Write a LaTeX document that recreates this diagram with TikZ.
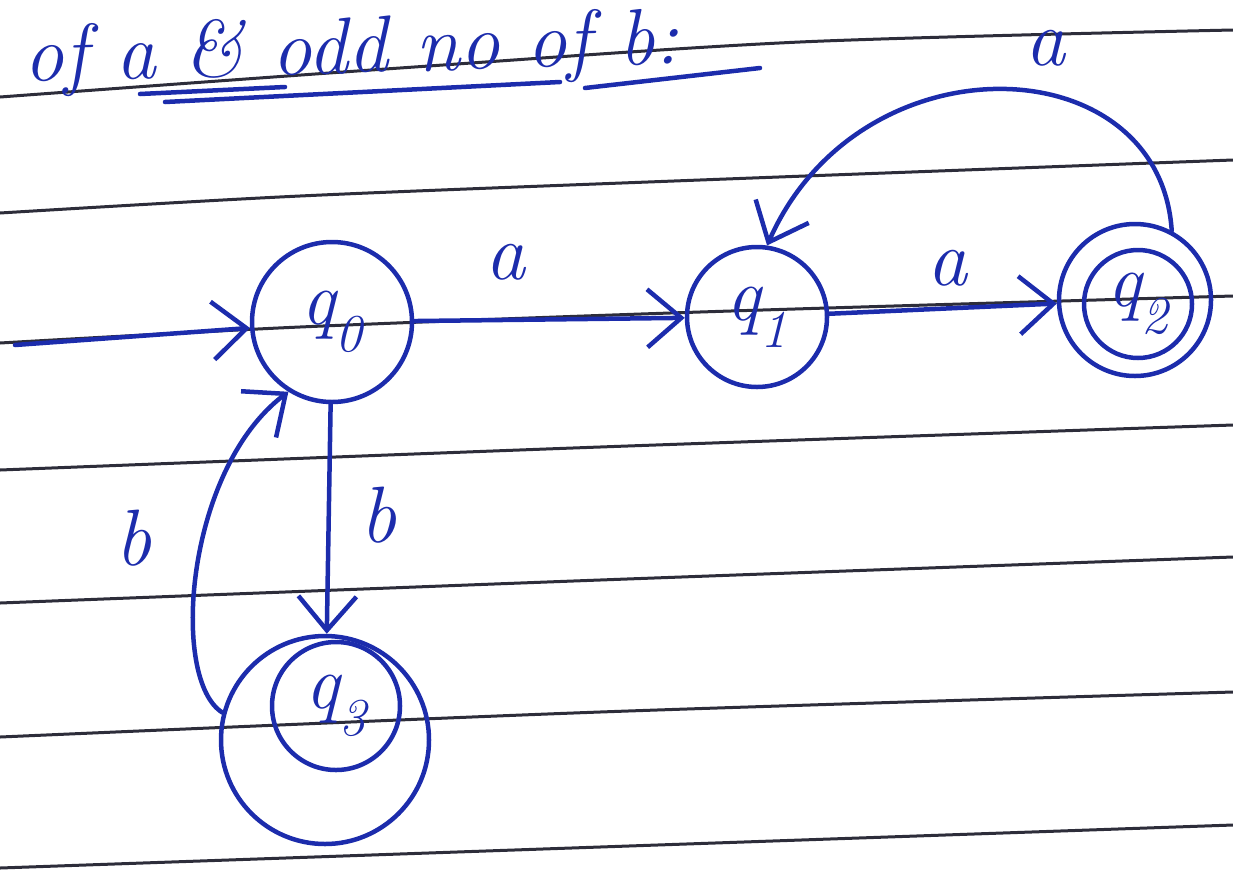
\documentclass[tikz,border=0pt]{standalone}
\usepackage{fontspec}
\usetikzlibrary{arrows.meta}
\definecolor{ink}{RGB}{28,44,172}
\definecolor{rulegray}{RGB}{45,45,58}

\begin{document}
\begin{tikzpicture}[x=1pt, y=-1pt, line cap=round, line join=round,
  state/.style={circle, draw=ink, line width=4.5pt, inner sep=0pt,
    font=\fontsize{76}{90}\selectfont\itshape, text=ink},
  ring/.style={circle, draw=ink, line width=4.5pt, inner sep=0pt},
  lbl/.style={inner sep=0pt, text=ink, font=\fontsize{80}{96}\selectfont\itshape},
  ink line/.style={draw=ink, line width=4.5pt},
  ruled/.style={draw=rulegray, line width=3pt},
  >={Straight Barb[length=34pt,width=58pt,line width=4.5pt]}]

  \useasboundingbox (0,0) rectangle (1233,876);

  %% ════ 纸上横线 ════
  \draw[ruled] plot[smooth] coordinates {(0,97) (400,68) (800,42) (1233,30)};
  \draw[ruled] plot[smooth] coordinates {(0,213) (300,196) (700,180) (1233,160)};
  \draw[ruled] plot[smooth] coordinates {(0,343) (300,327) (700,312) (1233,296)};
  \draw[ruled] plot[smooth] coordinates {(0,470) (600,447) (1233,425)};
  \draw[ruled] plot[smooth] coordinates {(0,603) (600,580) (1233,557)};
  \draw[ruled] plot[smooth] coordinates {(0,737) (600,712) (1233,692)};
  \draw[ruled] plot[smooth] coordinates {(0,868) (600,847) (1233,825)};

  %% ════ 标题 ════
  \node[lbl, anchor=base west, rotate=1.6, font=\fontsize{80}{96}\selectfont\itshape]
    (title) at (24,82) {of a \& odd no of b:};
  \draw[ink line] (140,94) -- (285,87);
  \draw[ink line] (165,102) -- (560,82);
  \draw[ink line] (585,88) -- (760,68);

  %% ════ 状态 ════
  \node[state, minimum size=160pt] (q0) at (332,322) {q\textsubscript{0}};
  \node[state, minimum size=140pt] (q1) at (757,317) {q\textsubscript{1}};
  \node[state, minimum size=108pt] (q2) at (1138,304) {q\textsubscript{2}};
  \node[ring,  minimum size=152pt] (q2o) at (1135,300) {};
  \node[state, minimum size=128pt] (q3) at (336,706) {q\textsubscript{3}};
  \node[ring,  minimum size=208pt] (q3o) at (325,740) {};

  \coordinate (start) at (15,345);

  %% ════ 转移 ════
  \draw[ink line, ->] (start) -- (q0);
  \draw[ink line, ->] (q0) -- (q1);
  \draw[ink line, ->] (q1) -- (q2o);
  \draw[ink line, ->] (q2o.62) .. controls (1160,45) and (860,35) .. (q1.82);
  \draw[ink line, ->] (q0) -- (q3o);
  \draw[ink line, ->] (q3o.165) .. controls (170,680) and (185,470) .. (q0.238);

  %% ════ 标签 ════
  \node[lbl] (la1) at (505,262) {a};
  \node[lbl] (la2) at (947,268) {a};
  \node[lbl] (la3) at (1045,48) {a};
  \node[lbl] (lb1) at (378,515) {b};
  \node[lbl] (lb2) at (133,538) {b};
\end{tikzpicture}
\end{document}
